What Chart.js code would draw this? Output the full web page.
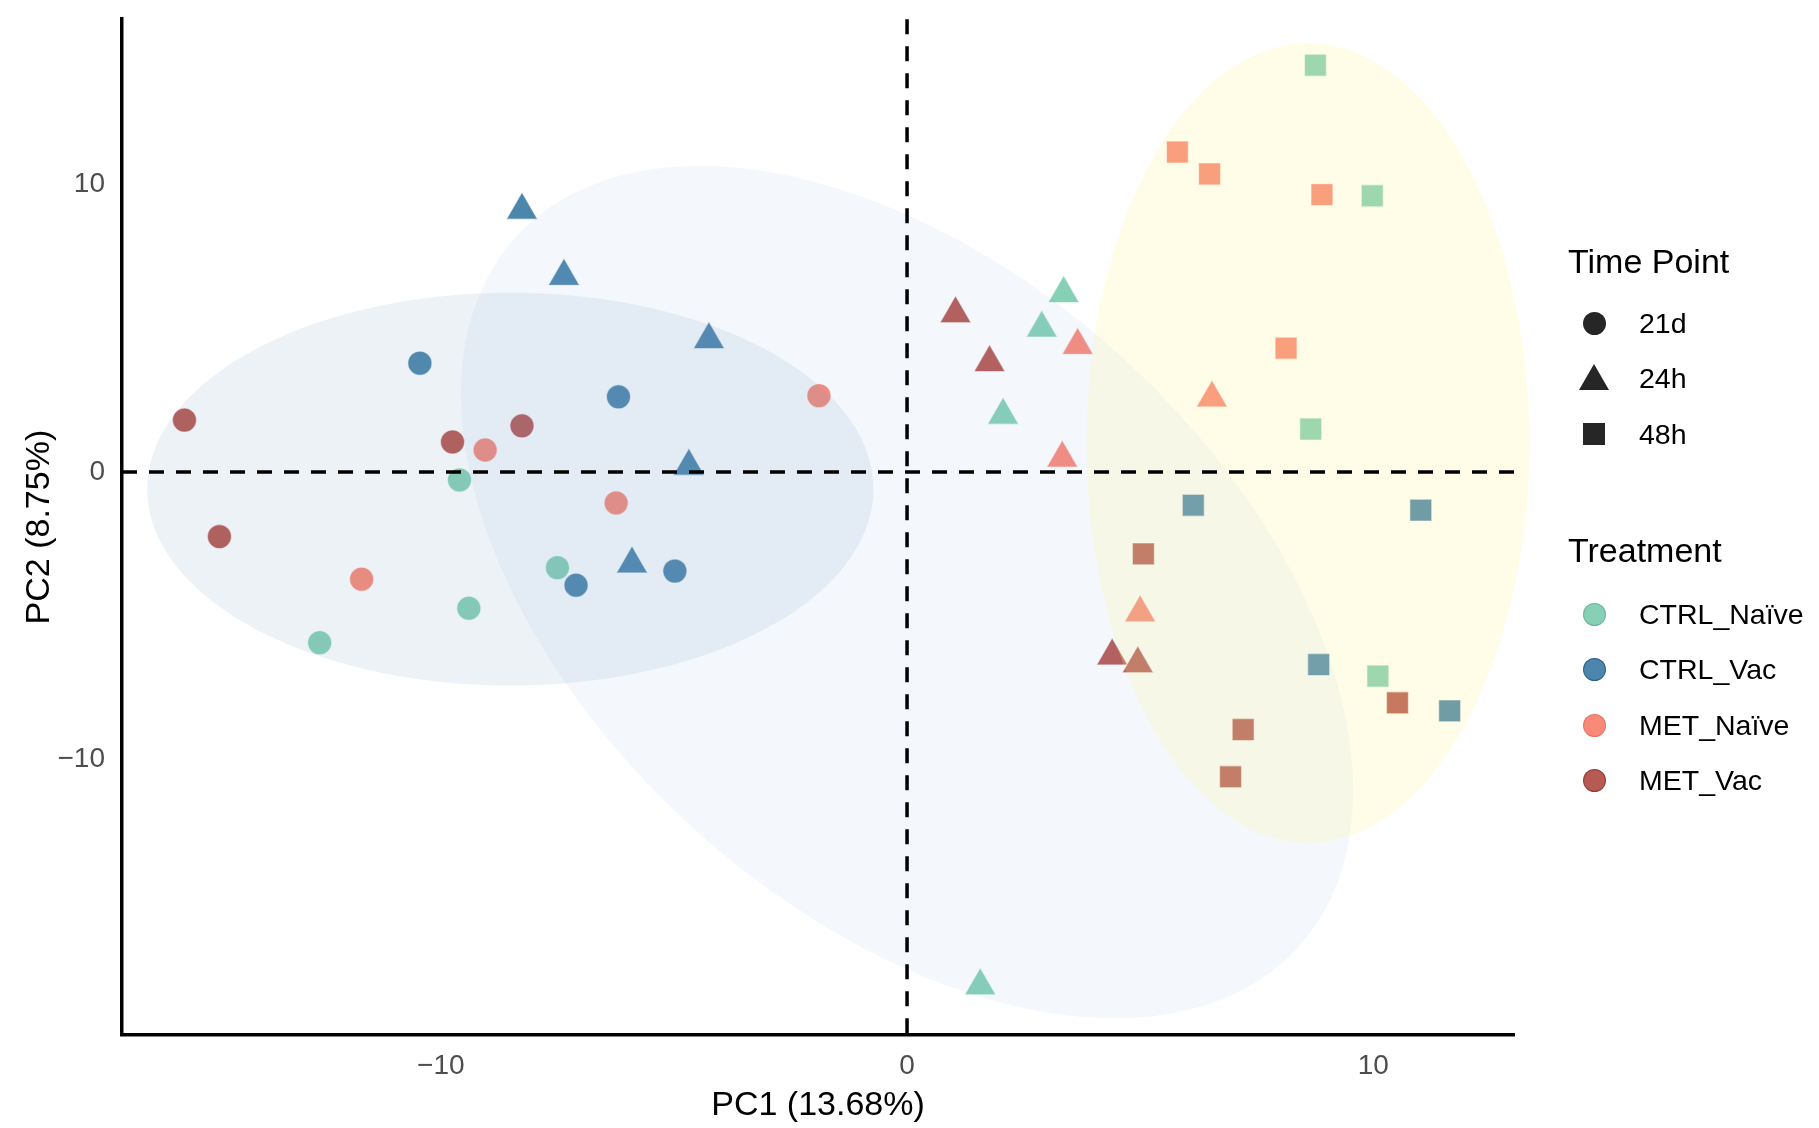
<!DOCTYPE html>
<html>
<head>
<meta charset="utf-8">
<title>PCA</title>
<script src="https://cdn.jsdelivr.net/npm/chart.js@4"></script>
<style>
  html, body { margin: 0; padding: 0; background: #fff; }
  #wrap { position: relative; width: 1819px; height: 1128px; font-family: "Liberation Sans", Arial, sans-serif; }
  #chart { position: absolute; left: 0; top: 0; }
  .lg { position: absolute; color: #000; white-space: nowrap; line-height: 1; }
  .lg-title { font-size: 34px; }
  .lg-label { font-size: 28.5px; }
  .sym { position: absolute; }
</style>
</head>
<body>
<div id="wrap">
  <canvas id="chart" width="1819" height="1128"></canvas>
</div>
<script>
// categories
const treatments = ['CTRL_Naïve', 'CTRL_Vac', 'MET_Naïve', 'MET_Vac'];
const timePoints = ['21d', '24h', '48h'];
const xTickValues = [-10, 0, 10];
const yTickValues = [-10, 0, 10];

// 21d (circles)
const pc1_21d = [-15.5, -14.75, -10.45, -9.75, -9.05, -8.26, -9.6, -6.19, -1.89, -6.24, -11.7, -9.4, -12.6, -7.5, -7.1, -4.98];
const pc2_21d = [1.8, -2.25, 3.78, 1.04, 0.76, 1.6, -0.28, 2.61, 2.65, -1.08, -3.73, -4.74, -5.94, -3.33, -3.94, -3.45];
const trt_21d = ['MET_Vac', 'MET_Vac', 'CTRL_Vac', 'MET_Vac', 'MET_Naïve', 'MET_Vac', 'CTRL_Naïve', 'CTRL_Vac',
                 'MET_Naïve', 'MET_Naïve', 'MET_Naïve', 'CTRL_Naïve', 'CTRL_Naïve', 'CTRL_Naïve', 'CTRL_Vac', 'CTRL_Vac'];

// 24h (triangles)
const pc1_24h = [-8.26, -7.36, -4.25, -4.68, -5.9, 1.04, 1.77, 3.36, 2.89, 3.66, 2.06, 3.33, 6.54, 5.0, 4.4, 4.95, 1.57];
const pc2_24h = [9.1, 6.8, 4.6, 0.2, -3.2, 5.5, 3.8, 6.2, 5.0, 4.4, 1.97, 0.48, 2.57, -4.9, -6.4, -6.67, -17.87];
const trt_24h = ['CTRL_Vac', 'CTRL_Vac', 'CTRL_Vac', 'CTRL_Vac', 'CTRL_Vac', 'MET_Vac', 'MET_Vac', 'CTRL_Naïve',
                 'CTRL_Naïve', 'MET_Naïve', 'CTRL_Naïve', 'MET_Naïve', 'MET_Naïve', 'MET_Naïve', 'MET_Vac', 'MET_Vac', 'CTRL_Naïve'];

// 48h (squares)
const pc1_48h = [8.76, 5.8, 6.49, 8.9, 9.98, 8.13, 8.66, 6.14, 11.02, 5.07, 8.83, 10.1, 10.52, 11.64, 7.21, 6.94];
const pc2_48h = [14.14, 11.12, 10.36, 9.64, 9.6, 4.3, 1.49, -1.16, -1.33, -2.85, -6.7, -7.1, -8.03, -8.31, -8.96, -10.6];
const trt_48h = ['CTRL_Naïve', 'MET_Naïve', 'MET_Naïve', 'MET_Naïve', 'CTRL_Naïve', 'MET_Naïve', 'CTRL_Naïve', 'CTRL_Vac',
                 'CTRL_Vac', 'MET_Vac', 'CTRL_Vac', 'CTRL_Naïve', 'MET_Vac', 'CTRL_Vac', 'MET_Vac', 'MET_Vac'];

// confidence ellipses: centre and two conjugate semi-axes, in PC units
const ellipseCenters = [[-8.51, -0.6], [0, -4.18], [8.6, 1.0]];
const ellipseAxisA = [[7.79, 0], [8.38, -12.37], [4.75, 0]];
const ellipseAxisB = [[0, 6.83], [-4.62, -8.16], [0, 13.9]];

const colors = {
    'CTRL_Naïve': 'rgba(124, 204, 176, 0.92)',
    'CTRL_Vac': 'rgba(62, 124, 166, 0.92)',
    'MET_Naïve': 'rgba(248, 128, 111, 0.92)',
    'MET_Vac': 'rgba(178, 76, 69, 0.92)'
};
const ellipseFills = ['rgba(110, 145, 180, 0.12)', 'rgba(120, 170, 230, 0.08)', 'rgba(255, 245, 140, 0.2)'];

function points(xs, ys) {
    return xs.map((v, i) => ({ x: v, y: ys[i] }));
}

const overlay = {
    id: 'overlay',
    afterDatasetsDraw(chart) {
        const { ctx, chartArea: a, scales: { x, y } } = chart;
        ctx.save();
        // ellipses go over the points, like stat_ellipse polygons (not clipped)
        ellipseCenters.forEach((c, i) => {
            ctx.beginPath();
            for (let k = 0; k <= 180; k++) {
                const t = k / 180 * Math.PI * 2;
                const vx = c[0] + Math.cos(t) * ellipseAxisA[i][0] + Math.sin(t) * ellipseAxisB[i][0];
                const vy = c[1] + Math.cos(t) * ellipseAxisA[i][1] + Math.sin(t) * ellipseAxisB[i][1];
                const px = x.getPixelForValue(vx), py = y.getPixelForValue(vy);
                if (k === 0) ctx.moveTo(px, py); else ctx.lineTo(px, py);
            }
            ctx.closePath();
            ctx.fillStyle = ellipseFills[i];
            ctx.fill();
        });
        // dashed reference lines at 0
        ctx.setLineDash([15, 12]);
        ctx.lineWidth = 3.5;
        ctx.strokeStyle = '#000';
        const x0 = x.getPixelForValue(0), y0 = y.getPixelForValue(0);
        ctx.beginPath();
        ctx.moveTo(x0, a.top);
        ctx.lineTo(x0, a.bottom);
        ctx.moveTo(a.left, y0);
        ctx.lineTo(a.right, y0);
        ctx.stroke();
        ctx.restore();
    }
};

const tickFont = { family: 'Liberation Sans', size: 28 };

new Chart(document.getElementById('chart'), {
    type: 'scatter',
    data: {
        datasets: [
            { label: timePoints[0], data: points(pc1_21d, pc2_21d), pointStyle: 'circle', pointRadius: 12,
              backgroundColor: ctx => colors[trt_21d[ctx.dataIndex]] },
            { label: timePoints[1], data: points(pc1_24h, pc2_24h), pointStyle: 'triangle', pointRadius: 18,
              backgroundColor: ctx => colors[trt_24h[ctx.dataIndex]] },
            { label: timePoints[2], data: points(pc1_48h, pc2_48h), pointStyle: 'rect', pointRadius: 15.5,
              backgroundColor: ctx => colors[trt_48h[ctx.dataIndex]] }
        ]
    },
    options: {
        responsive: false,
        devicePixelRatio: 1,
        animation: false,
        layout: { padding: { top: 16, right: 305, left: 0, bottom: 0 } },
        elements: { point: { borderWidth: 1.2, borderColor: 'rgba(255,255,255,0.55)', hoverRadius: 0 } },
        plugins: { legend: { display: false }, tooltip: { enabled: false } },
        scales: {
            x: {
                type: 'linear', min: -16.84, max: 13.02,
                afterFit(s) { s.height = 93; s.paddingLeft = 0; s.paddingRight = 0; },
                afterBuildTicks(s) { s.ticks = xTickValues.map(v => ({ value: v })); },
                grid: { display: false, drawTicks: false },
                border: { display: true, color: '#000', width: 3.5 },
                ticks: { color: '#4d4d4d', font: tickFont, padding: 14,
                         callback: v => String(v).replace('-', '\u2212') },
                title: { display: true, text: 'PC1 (13.68%)', color: '#000',
                         font: { family: 'Liberation Sans', size: 34 }, padding: { top: 0, bottom: 2 } }
            },
            y: {
                type: 'linear', min: -19.58, max: 15.74,
                afterFit(s) { s.width = 122; s.paddingTop = 0; s.paddingBottom = 0; },
                afterBuildTicks(s) { s.ticks = yTickValues.map(v => ({ value: v })); },
                grid: { display: false, drawTicks: false },
                border: { display: true, color: '#000', width: 3.5 },
                ticks: { color: '#4d4d4d', font: tickFont, padding: 17,
                         callback: v => String(v).replace('-', '\u2212') },
                title: { display: true, text: 'PC2 (8.75%)', color: '#000',
                         font: { family: 'Liberation Sans', size: 34 }, padding: { top: 19, bottom: 0 } }
            }
        }
    },
    plugins: [overlay]
});

// legends (two guides, as in ggplot)
const wrap = document.getElementById('wrap');
function addText(txt, cls, left, cy, size) {
    const d = document.createElement('div');
    d.className = 'lg ' + cls;
    d.textContent = txt;
    d.style.left = left + 'px';
    d.style.top = (cy - size / 2) + 'px';
    wrap.appendChild(d);
}
function addSym(shape, color, cx, cy, border) {
    const d = document.createElement('div');
    d.className = 'sym';
    if (shape === 'triangle') {
        d.style.width = '0'; d.style.height = '0';
        d.style.borderLeft = '15px solid transparent';
        d.style.borderRight = '15px solid transparent';
        d.style.borderBottom = '26px solid ' + color;
        d.style.left = (cx - 15) + 'px';
        d.style.top = (cy - 15) + 'px';
    } else {
        const s = shape === 'circle' ? 23 : 22;
        d.style.width = s + 'px'; d.style.height = s + 'px';
        d.style.background = color;
        d.style.boxSizing = 'border-box';
        if (border) d.style.border = '1.5px solid ' + border;
        if (shape === 'circle') d.style.borderRadius = '50%';
        d.style.left = (cx - s / 2) + 'px';
        d.style.top = (cy - s / 2) + 'px';
    }
    wrap.appendChild(d);
}
const legendLeft = 1568, symX = 1594, labelX = 1639;
const shapes = ['circle', 'triangle', 'rect'];
addText('Time Point', 'lg-title', legendLeft, 261, 34);
timePoints.forEach((t, i) => {
    const cy = 323 + i * 55.5;
    addSym(shapes[i], '#262626', symX, cy);
    addText(t, 'lg-label', labelX, cy, 28.5);
});
addText('Treatment', 'lg-title', legendLeft, 550, 34);
const legendBorders = ['rgba(90,160,135,0.6)', 'rgba(30,80,120,0.7)', 'rgba(210,100,90,0.6)', 'rgba(130,45,40,0.7)'];
treatments.forEach((t, i) => {
    const cy = 614 + i * 55.5;
    addSym('circle', colors[t], symX, cy, legendBorders[i]);
    addText(t, 'lg-label', labelX, cy, 28.5);
});
</script>
</body>
</html>
